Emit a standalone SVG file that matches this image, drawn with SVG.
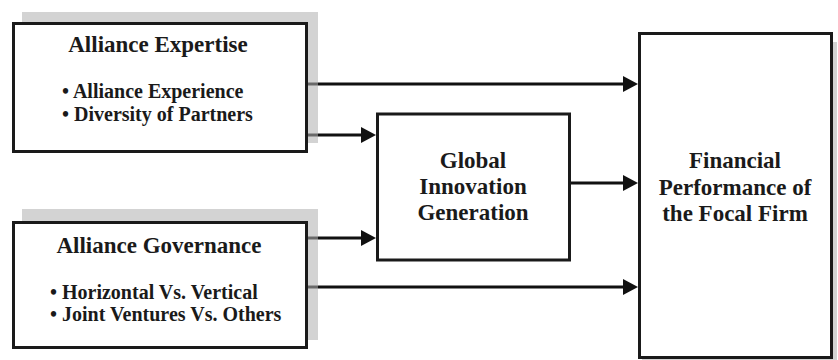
<svg xmlns="http://www.w3.org/2000/svg" width="838" height="360" viewBox="0 0 838 360">
<style>
.shadow{fill:#d3d3d3;stroke:none}
.box{fill:#fff;stroke:#1a1a1a;stroke-width:3}
.t{font-family:"Liberation Serif","Times New Roman",serif;font-weight:bold;fill:#1a1a1a}
.h{font-size:23px;text-anchor:middle}
.b{font-size:20px}
.ln{stroke:#111;stroke-width:3;fill:none}
.sh{stroke:#6a6a6a;stroke-width:3}
</style>
<defs>
<marker id="ah" markerUnits="userSpaceOnUse" markerWidth="16" markerHeight="16" refX="7" refY="8" orient="auto">
<path d="M0,0 L15,8 L0,16 Z" fill="#111"/>
</marker>
</defs>
<rect class="shadow" x="22" y="12" width="296" height="131"/>
<rect class="shadow" x="22" y="209" width="296" height="131"/>
<rect class="shadow" x="642" y="42" width="195" height="330"/>
<g id="connectors">
<line class="ln" x1="318" y1="84" x2="630" y2="84" marker-end="url(#ah)"/>
<line class="ln" x1="318" y1="135" x2="368" y2="135" marker-end="url(#ah)"/>
<line class="ln" x1="318" y1="238" x2="368" y2="238" marker-end="url(#ah)"/>
<line class="ln" x1="318" y1="287" x2="630" y2="287" marker-end="url(#ah)"/>
<line class="ln" x1="571" y1="183" x2="630" y2="183" marker-end="url(#ah)"/>
<line class="sh" x1="308" y1="84" x2="318" y2="84"/>
<line class="sh" x1="308" y1="135" x2="318" y2="135"/>
<line class="sh" x1="308" y1="238" x2="318" y2="238"/>
<line class="sh" x1="308" y1="287" x2="318" y2="287"/>
</g>
<g id="expertise">
<rect class="box" x="13.5" y="23.5" width="293" height="128"/>
<text class="t h" x="158" y="52">Alliance Expertise</text>
<text class="t b" x="62" y="98">• Alliance Experience</text>
<text class="t b" x="62" y="121">• Diversity of Partners</text>
</g>
<g id="governance">
<rect class="box" x="13.5" y="222.5" width="293" height="125"/>
<text class="t h" x="159" y="253">Alliance Governance</text>
<text class="t b" x="50" y="299">• Horizontal Vs. Vertical</text>
<text class="t b" x="50" y="321">• Joint Ventures Vs. Others</text>
</g>
<g id="innovation">
<rect class="box" x="377.5" y="114" width="192" height="146"/>
<text class="t h" x="473" y="168">Global</text>
<text class="t h" x="473" y="194">Innovation</text>
<text class="t h" x="473" y="220">Generation</text>
</g>
<g id="performance">
<rect class="box" x="639.5" y="33.5" width="192" height="324"/>
<text class="t h" x="735" y="168">Financial</text>
<text class="t h" x="735" y="195">Performance of</text>
<text class="t h" x="735" y="221">the Focal Firm</text>
</g>
</svg>
